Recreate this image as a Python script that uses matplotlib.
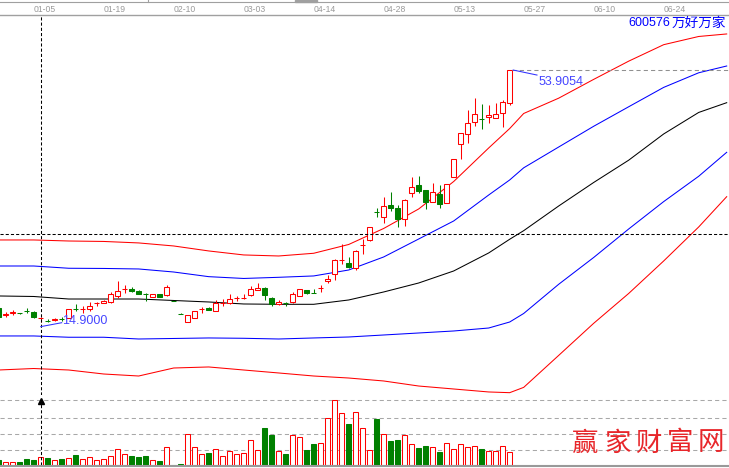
import matplotlib
matplotlib.use('Agg')
import matplotlib.pyplot as plt
import matplotlib.transforms as mtransforms
from matplotlib.lines import Line2D
from matplotlib.patches import Rectangle
import numpy as np

plt.rcParams['font.family'] = ['Liberation Sans', 'Noto Sans CJK SC', 'DejaVu Sans']

# daily candles, index 0..73
opens = [17.12, 16.06, 16.37, 16.27, 16.62, 16.41, 15.46, 15.12, 15.14, 15.38,
         15.48, 16.93, 16.85, 16.96, 17.78, 17.80, 17.95, 18.98, 20.00, 20.01,
         19.75, 19.21, 18.82, 19.19, 19.08, 18.17, 16.19, 14.96, 15.48, 16.85,
         17.12, 16.65, 17.88, 17.80, 18.56, 18.65, 19.04, 19.81, 20.21, 18.57,
         17.64, 17.91, 17.95, 18.93, 19.81, 19.46, 20.20, 21.25, 22.29, 24.48,
         24.08, 23.31, 26.81, 27.60, 31.99, 31.20, 33.02, 32.60, 30.80, 34.92,
         36.11, 35.34, 33.43, 34.72, 33.28, 37.40, 42.39, 43.96, 45.91, 46.39,
         46.59, 46.44, 47.21, 48.85]
highs = [17.38, 16.50, 16.76, 16.37, 17.02, 16.53, 15.72, 15.37, 15.52, 15.63,
         16.92, 17.69, 17.43, 17.95, 18.05, 18.23, 19.50, 21.30, 20.63, 20.25,
         19.78, 19.35, 19.24, 19.24, 20.63, 18.19, 16.22, 15.99, 16.61, 17.27,
         17.15, 18.23, 18.42, 19.29, 18.93, 19.19, 20.48, 20.99, 20.25, 18.82,
         18.31, 18.05, 19.59, 20.01, 19.86, 19.97, 20.63, 22.18, 24.58, 26.95,
         24.92, 25.97, 27.69, 29.61, 32.60, 34.30, 34.98, 33.02, 33.87, 37.30,
         37.51, 35.41, 36.47, 36.11, 36.34, 40.14, 44.16, 47.72, 49.53, 48.65,
         48.50, 48.76, 49.27, 53.9054]
lows = [15.60, 15.72, 15.99, 16.14, 16.25, 15.52, 14.90, 14.93, 15.06, 15.06,
        15.45, 16.65, 16.34, 16.65, 17.43, 17.77, 17.80, 18.67, 19.35, 19.55,
        19.16, 18.20, 18.77, 18.77, 18.98, 18.12, 16.14, 14.93, 15.45, 16.25,
        16.76, 16.61, 17.38, 17.61, 18.20, 18.42, 18.98, 19.78, 18.31, 17.38,
        17.54, 17.43, 17.80, 18.88, 19.19, 19.35, 19.59, 20.89, 21.40, 23.84,
        23.22, 22.95, 25.38, 27.44, 31.20, 30.18, 32.09, 29.66, 29.81, 34.21,
        34.83, 32.35, 33.40, 32.51, 33.25, 37.35, 40.09, 42.57, 45.29, 44.73,
        45.76, 46.41, 45.04, 48.50]
closes = [15.72, 16.10, 16.41, 16.24, 16.59, 15.63, 15.49, 15.09, 15.37, 15.35,
          16.87, 16.90, 16.88, 17.38, 17.81, 18.20, 19.24, 19.70, 20.03, 19.63,
          19.19, 19.18, 19.19, 18.82, 20.37, 18.14, 16.16, 15.99, 16.61, 16.88,
          16.79, 17.80, 17.91, 18.43, 18.59, 18.68, 19.98, 20.21, 19.08, 17.64,
          17.95, 17.88, 19.19, 19.97, 19.44, 19.42, 20.23, 21.56, 24.50, 24.51,
          23.46, 25.90, 26.84, 29.53, 31.96, 32.86, 32.60, 30.80, 33.79, 35.80,
          35.23, 33.43, 35.07, 33.17, 36.27, 40.09, 44.11, 45.66, 47.06, 46.36,
          46.95, 47.06, 48.91, 53.9054]
volume = [4.7, 2.7, 2.7, 3.0, 5.7, 4.7, 7.7, 6.7, 4.7, 5.7,
          6.7, 9.7, 5.7, 7.7, 4.7, 5.7, 8.7, 15.7, 10.7, 8.7,
          7.7, 8.7, 4.7, 3.7, 17.7, 0.3, 1.0, 30.7, 17.7, 10.7,
          12.0, 15.7, 8.7, 13.7, 10.7, 11.7, 24.7, 14.7, 37.0, 29.7,
          13.7, 10.7, 29.7, 27.7, 15.0, 21.0, 21.7, 46.7, 65.4, 51.7,
          41.0, 52.7, 36.7, 14.7, 45.7, 30.7, 23.7, 24.7, 29.7, 20.7,
          16.7, 18.7, 17.7, 12.7, 21.7, 16.4, 20.7, 17.7, 19.4, 15.7,
          14.4, 13.7, 18.7, 12.7]
vol_grid = [15.4, 31.4, 47.4, 65.4]

# band lines (continue past the last candle)
band_x = [0, 5, 10, 15, 20, 25, 30, 35, 40, 45, 50, 55, 60, 65, 70, 73,
          75, 80, 85, 90, 95, 100, 104]
upper2 = [27.60, 27.60, 27.44, 27.37, 27.14, 26.67, 25.90, 25.28, 25.12, 25.54,
          26.90, 29.38, 32.40, 36.65, 41.84, 44.85, 47.18, 49.55, 52.46, 55.28,
          57.83, 59.10, 59.49]
upper1 = [23.57, 23.57, 23.22, 23.19, 23.11, 22.64, 21.92, 21.64, 21.82, 22.03,
          22.95, 24.97, 27.75, 30.54, 34.56, 36.89, 38.77, 41.99, 45.20, 48.22,
          51.22, 53.48, 54.53]
middle = [18.93, 18.85, 18.46, 18.46, 18.46, 18.23, 18.00, 17.69, 17.64, 17.64,
          18.31, 19.55, 20.94, 22.80, 25.59, 27.71, 29.04, 32.86, 36.50, 39.95,
          44.01, 47.34, 48.85]
lower1 = [12.74, 12.74, 12.54, 12.54, 12.27, 12.35, 12.43, 12.38, 12.27, 12.43,
          12.58, 12.89, 13.20, 13.51, 13.97, 14.90, 16.22, 20.74, 24.89, 29.30,
          33.54, 37.46, 41.17]
lower2 = [7.47, 7.70, 7.47, 6.85, 6.54, 7.78, 7.94, 7.47, 7.01, 6.54,
          6.23, 5.77, 4.99, 4.53, 4.07, 3.96, 4.78, 9.73, 14.70, 19.32,
          24.35, 29.61, 34.30]

date_pos = [6, 16, 26, 36, 46, 56, 66, 76, 86, 96]
date_lbl = ['01-05', '01-19', '02-10', '03-03', '04-14',
            '04-28', '05-13', '05-27', '06-10', '06-24']

cross_day = 6
cross_price = 28.53

W, H = 729, 468
fig = plt.figure(figsize=(W / 100, H / 100), dpi=100)


def fy(py):
    return 1 - py / H


ax = fig.add_axes([0, fy(395), 1, (395 - 16) / H])
axv = fig.add_axes([0, fy(465), 1, 70 / H], sharex=ax)
for a in (ax, axv):
    a.set_axis_off()
ax.set_xlim(0.186, 104.33)
ax.set_ylim(3.60, 62.27)
axv.set_ylim(0, 70)

x = np.arange(len(opens))
o = np.array(opens); c = np.array(closes)
hi = np.array(highs); lo = np.array(lows)
up = c >= o
red, green = '#ff0000', '#008000'
col = np.where(up, red, green)
lw = 0.75
bw = 0.7

# bands
ax.plot(band_x, upper2, color=red, lw=lw, zorder=1)
ax.plot(band_x, upper1, color='#0000ff', lw=lw, zorder=1)
ax.plot(band_x, middle, color='#000000', lw=lw, zorder=1)
ax.plot(band_x, lower1, color='#0000ff', lw=lw, zorder=1)
ax.plot(band_x, lower2, color=red, lw=lw, zorder=1)

# candles
ax.vlines(x, lo, hi, colors=col, lw=lw, zorder=2)
ax.bar(x, np.abs(c - o), bottom=np.minimum(o, c), width=bw,
       color=np.where(up, 'white', green), edgecolor=col, linewidth=lw, zorder=3)

# volume
axv.bar(x, volume, width=bw, color=np.where(up, 'white', green),
        edgecolor=col, linewidth=lw, zorder=3)
for g in vol_grid:
    axv.axhline(g, color='#a8a8a8', lw=lw, dashes=(4, 3), zorder=1)

# crosshair
ax.axvline(cross_day, color='black', lw=lw, dashes=(3, 2), zorder=4)
axv.axvline(cross_day, ymax=0.96, color='black', lw=lw, dashes=(3, 2), zorder=4)
ax.axhline(cross_price, color='black', lw=lw, dashes=(3, 2), zorder=4)
axv.plot([cross_day], [64.0], marker='^', color='black', markersize=5, zorder=5)

# high / low markers
i_hi = int(np.argmax(hi)); i_lo = int(np.argmin(lo))
lblc = '#4646ff'
ax.plot([i_hi + 0.4, 104.4], [hi[i_hi], hi[i_hi]], color='#909090', lw=lw,
        dashes=(4, 3), zorder=4)
ax.plot([i_hi + 0.5, 76.9], [hi[i_hi], 53.13], color='#3030ff', lw=lw, zorder=4)
ax.text(77.1, 52.1, f'{hi[i_hi]:.4f}', color=lblc,
        fontsize=9, va='center', ha='left', zorder=6)
ax.plot([i_lo, 9.0], [14.18, 14.79], color='#3030ff', lw=lw, zorder=4)
ax.text(9.05, 15.0, f'{lo[i_lo]:.4f}', color=lblc, fontsize=9,
        va='center', ha='left', zorder=6)

# header
trans = mtransforms.blended_transform_factory(ax.transData, fig.transFigure)
for p, t in zip(date_pos, date_lbl):
    fig.text(p + 0.6, fy(9.7), t, transform=trans, ha='center', va='center',
             fontsize=6.2, color='#9a9a9a')
fig.add_artist(Line2D([0, 1], [fy(15), fy(15)], color='#a0a0a0', lw=1.0))
fig.add_artist(Line2D([0, 1], [fy(1.7), fy(1.7)], color='#a0a0a0', lw=0.8))
fig.add_artist(Line2D([148 / W, 148 / W], [fy(0), fy(2)], color='#a0a0a0', lw=0.8))
fig.add_artist(Rectangle((295 / W, fy(1.5)), 22 / W, 1.5 / H, color='#a0a0a0',
                         transform=fig.transFigure))
fig.add_artist(Line2D([0, 1], [fy(466), fy(466)], color='#999999', lw=1.5))

fig.text(628 / W, fy(22.5), '600576', color='#0000ff', fontsize=9,
         va='center', ha='left')
fig.text(672 / W, fy(22.5), '万好万家', color='#0000ff', fontsize=9.8,
         va='center', ha='left', family=['Noto Sans CJK SC', 'DejaVu Sans'])

# watermark
for cx, ch in zip([585, 618, 648, 680, 711], '赢家财富网'):
    fig.text(cx / W, fy(443), ch, color='#e8262a', fontsize=19, ha='center',
             va='center', family=['Noto Sans CJK SC', 'DejaVu Sans'], zorder=10)

fig.savefig('out.png', dpi=100)
